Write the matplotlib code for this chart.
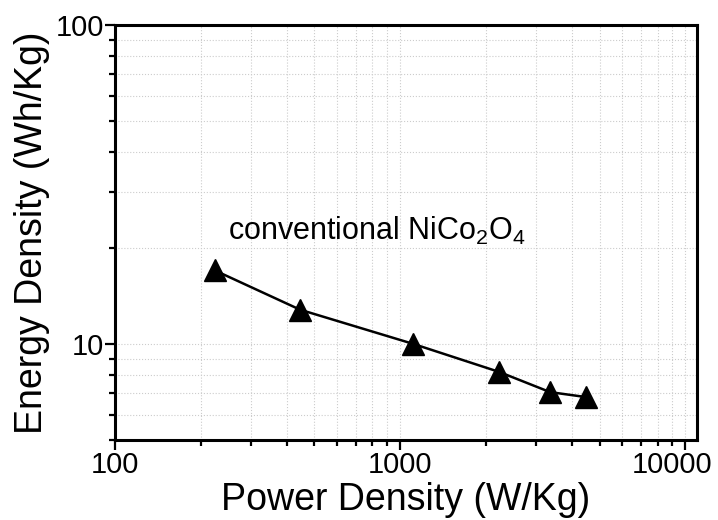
import matplotlib
matplotlib.use('Agg')
import matplotlib.pyplot as plt
import matplotlib.transforms as mtransforms
from matplotlib.ticker import LogLocator, NullFormatter, FixedLocator, FixedFormatter

plt.rcParams['font.family'] = ['Liberation Sans', 'DejaVu Sans']
plt.rcParams['mathtext.fontset'] = 'custom'
plt.rcParams['mathtext.rm'] = 'Liberation Sans'
plt.rcParams['mathtext.it'] = 'Liberation Sans'

# data
power = [224, 446, 1112, 2223, 3357, 4500]
energy = [17.0, 12.8, 10.0, 8.17, 7.06, 6.81]
label = r'conventional NiCo$_\mathrm{2}$O$_\mathrm{4}$'

fig = plt.figure(figsize=(7.18, 5.2), dpi=100)
ax = fig.add_axes([0.160, 0.154, 0.811, 0.798])

ax.plot(power, energy, '-', color='black', lw=1.8, marker='^', ms=16, zorder=3)

ax.set_xscale('log')
ax.set_yscale('log')
ax.set_xlim(100, 11000)
ax.set_ylim(5, 100)

ax.xaxis.set_major_locator(FixedLocator([100, 1000, 10000]))
ax.xaxis.set_major_formatter(FixedFormatter(['100', '1000', '10000']))
ax.xaxis.set_minor_locator(LogLocator(base=10, subs=range(2, 10)))
ax.xaxis.set_minor_formatter(NullFormatter())
ax.yaxis.set_major_locator(FixedLocator([10, 100]))
ax.yaxis.set_major_formatter(FixedFormatter(['10', '100']))
ax.yaxis.set_minor_locator(LogLocator(base=10, subs=range(2, 10)))
ax.yaxis.set_minor_formatter(NullFormatter())

ax.grid(True, which='both', color='#cccccc', ls=':', lw=0.8)
ax.set_axisbelow(True)

for s in ax.spines.values():
    s.set_linewidth(2.2)
ax.tick_params(which='major', direction='out', length=7, width=1.6, labelsize=21, pad=1)
ax.tick_params(which='minor', direction='out', length=4, width=1.6)
ax.tick_params(top=False, right=False)

# last x label sits a bit left so it stays inside the figure
fig.canvas.draw()
last = ax.get_xticklabels()[-1]
last.set_transform(last.get_transform() + mtransforms.ScaledTranslation(-0.13, 0, fig.dpi_scale_trans))

ax.set_xlabel('Power Density (W/Kg)', fontsize=27, labelpad=2)
ax.set_ylabel('Energy Density (Wh/Kg)', fontsize=27, labelpad=4)

ax.text(250, 22.6, label, fontsize=22, va='center', ha='left')

fig.savefig('out.png', dpi=100)
